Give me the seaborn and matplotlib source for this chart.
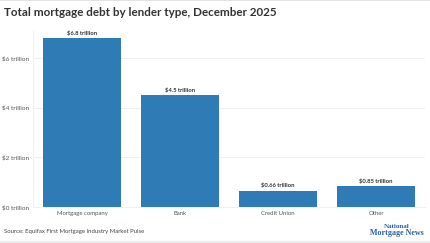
import matplotlib
matplotlib.use("Agg")
import matplotlib.pyplot as plt
import seaborn as sns
import pandas as pd

categories = ["Mortgage company", "Bank", "Credit Union", "Other"]
values = [6.8, 4.5, 0.66, 0.85]
value_labels = ["$6.8 trillion", "$4.5 trillion", "$0.66 trillion", "$0.85 trillion"]
yticks = [0, 2, 4, 6]
ytick_labels = ["$0 trillion", "$2 trillion", "$4 trillion", "$6 trillion"]

sns.set_theme(style="white")
plt.rcParams['font.family'] = ['Lato', 'DejaVu Sans']

df = pd.DataFrame({"cat": categories, "val": values})

fig = plt.figure(figsize=(4.30, 2.43), dpi=100)
ax = fig.add_axes([33/430, 1 - 207/243, (425-33)/430, (207-30)/243])

sns.barplot(data=df, x="cat", y="val", color="#2F7BB5", width=0.8, ax=ax,
            saturation=1, edgecolor="none")
ax.set_xlim(-0.5, 3.5)
ax.set_ylim(0, 177/24.83)
ax.set_yticks(yticks)
ax.set_yticklabels(ytick_labels, fontsize=4.6, color="#555555")
ax.tick_params(axis="x", labelsize=4.3, colors="#555555", length=0, pad=3)
ax.tick_params(axis="y", length=0, pad=3)
ax.set_xlabel("")
ax.set_ylabel("")
ax.grid(axis="y", color="#eeeeee", linewidth=0.6)
ax.set_axisbelow(True)
for s in ["top", "right"]:
    ax.spines[s].set_visible(False)
ax.spines["left"].set_color("#eeeeee")
ax.spines["left"].set_linewidth(0.6)
ax.spines["bottom"].set_color("#eeeeee")
ax.spines["bottom"].set_linewidth(0.6)

for i, (v, lab) in enumerate(zip(values, value_labels)):
    ax.text(i, v + 0.08, lab, ha="center", va="bottom", fontsize=4.2,
            fontweight="bold", color="#333333")

fig.text(4/430, 1 - 13/243, "Total mortgage debt by lender type, December 2025",
         fontsize=8.4, fontweight="bold", color="#333333", ha="left", va="center")
fig.text(4/430, 1 - 231/243, "Source: Equifax First Mortgage Industry Market Pulse",
         fontsize=4.3, color="#444444", ha="left", va="center")
fig.text(397/430, 1 - 226.5/243, "National", fontsize=5.0, fontweight="bold",
         color="#2A5DAA", family=["Liberation Serif", "DejaVu Serif"], ha="center", va="center")
fig.text(397/430, 1 - 232.5/243, "Mortgage News", fontsize=5.8, fontweight="bold",
         color="#2A5DAA", family=["Liberation Serif", "DejaVu Serif"], ha="center", va="center")

fig.add_artist(plt.Line2D([0, 1], [1 - 0.5/243, 1 - 0.5/243], color="#dddddd", lw=1.2,
                          transform=fig.transFigure))
fig.add_artist(plt.Line2D([0, 1], [1.5/243, 1.5/243], color="#eeeeee", lw=2.5,
                          transform=fig.transFigure))

fig.savefig("out.png", dpi=100, facecolor="white")
